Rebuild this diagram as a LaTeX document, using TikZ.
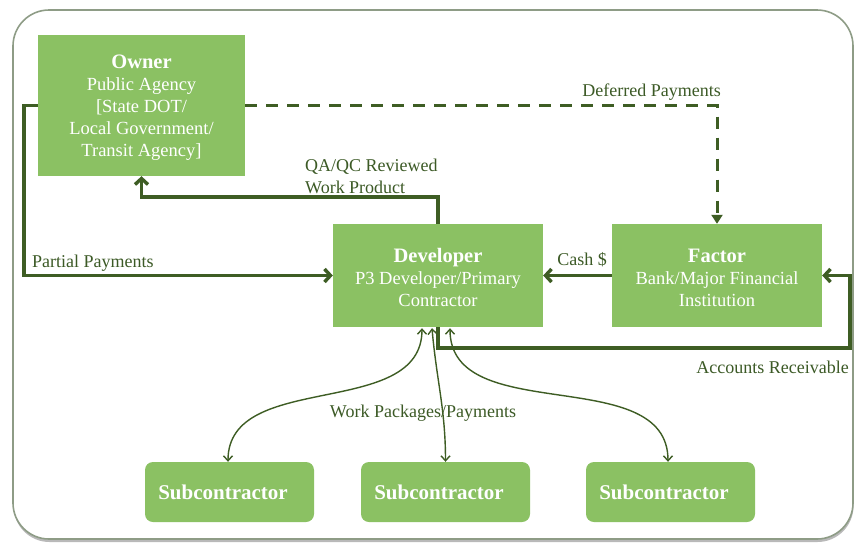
\documentclass[tikz,border=0pt]{standalone}
\usepackage{fontspec}
\setmainfont{Liberation Serif}
\usepackage{tikz}
\usetikzlibrary{arrows.meta,calc,positioning,shadows}

\definecolor{boxgreen}{HTML}{8BC163}
\definecolor{darkline}{HTML}{3E5D24}
\definecolor{labelgreen}{HTML}{3C5A26}
\definecolor{framegray}{HTML}{8E9C86}

\tikzset{
  party/.style={rectangle, fill=boxgreen, text=white, align=center, inner sep=0pt,
    font=\fontsize{18.5}{22}\selectfont},
  subbox/.style={party, rounded corners=8pt, minimum width=169pt, minimum height=60pt,
    font=\fontsize{21}{24}\selectfont\bfseries},
  flow/.style={draw=darkline, line width=3.4pt, -{Straight Barb[length=6pt,width=13pt]}},
  deferred/.style={draw=darkline, line width=3pt, dash pattern=on 12pt off 9pt,
    -{Triangle[length=9pt,width=11pt]}},
  workflow/.style={draw=darkline, line width=1.4pt,
    {Straight Barb[length=5pt,width=9pt]}-{Straight Barb[length=5pt,width=9pt]}},
  lbl/.style={text=labelgreen, font=\fontsize{18}{22}\selectfont, inner sep=0pt},
}

% bold first line of a party box, with a little extra room above it
\newcommand{\headline}[1]{{\fontsize{20.5}{25}\selectfont\bfseries\rule{0pt}{18.5pt}#1}}
\newcommand{\subname}{Subcontractor\kern13pt}

\begin{document}
\begin{tikzpicture}[x=1pt,y=-1pt]
\useasboundingbox (0,0) rectangle (854,544);

% outer frame
\draw[framegray, line width=1.6pt, rounded corners=36pt, fill=white,
  drop shadow={shadow xshift=0.5pt, shadow yshift=-3pt, opacity=0.55}]
  (13,10) rectangle (853,539);

% parties
\node[party, minimum width=207pt, minimum height=141pt] (owner) at (141.5,105.5)
  {\headline{Owner}\\Public Agency\\{[}State DOT/\\Local Government/\\Transit Agency{]}};
\node[party, minimum width=210pt, minimum height=103pt] (dev) at (438,275.5)
  {\headline{Developer}\\P3 Developer/Primary\\Contractor};
\node[party, minimum width=210pt, minimum height=103pt] (factor) at (717,275.5)
  {\headline{Factor}\\Bank/Major Financial\\Institution};

\node[subbox] (sub1) at (229.5,492) {\subname};
\node[subbox] (sub2) at (445.5,492) {\subname};
\node[subbox] (sub3) at (670.5,492) {\subname};

% payments and work product
\draw[flow] (owner.west) -- ++(-14,0) |- (dev.west);
\draw[deferred] (owner.east) -| (factor.north);
\draw[flow] (dev.north) -- ++(0,-27) -| (owner.south);
\draw[flow] (factor.west) -- (dev.east);
\coordinate (arcorner) at (850,348);
\draw[flow] (dev.south) |- (arcorner) |- (factor.east);

% work packages to the subcontractors
\draw[workflow] ($(dev.south)+(-16,1)$) to[out=-90,in=90] (sub1.north -| 228,0);
\draw[workflow] ($(dev.south)+(-6,1)$) to[out=-85,in=90] (sub2.north);
\draw[workflow] ($(dev.south)+(12,1)$) to[out=-90,in=90] (sub3.north -| 668,0);

% labels
\node[lbl, anchor=west] at (32,263) {Partial Payments};
\node[lbl, anchor=east] at (721,92) {Deferred Payments};
\node[lbl, anchor=north west, align=left] at (305,159) {QA/QC Reviewed\\Work Product};
\node[lbl] at (582,260) {Cash \$};
\node[lbl, anchor=east] at (849,367) {Accounts Receivable};
\node[lbl] at (423,413) {Work Packages/Payments};
\end{tikzpicture}
\end{document}
